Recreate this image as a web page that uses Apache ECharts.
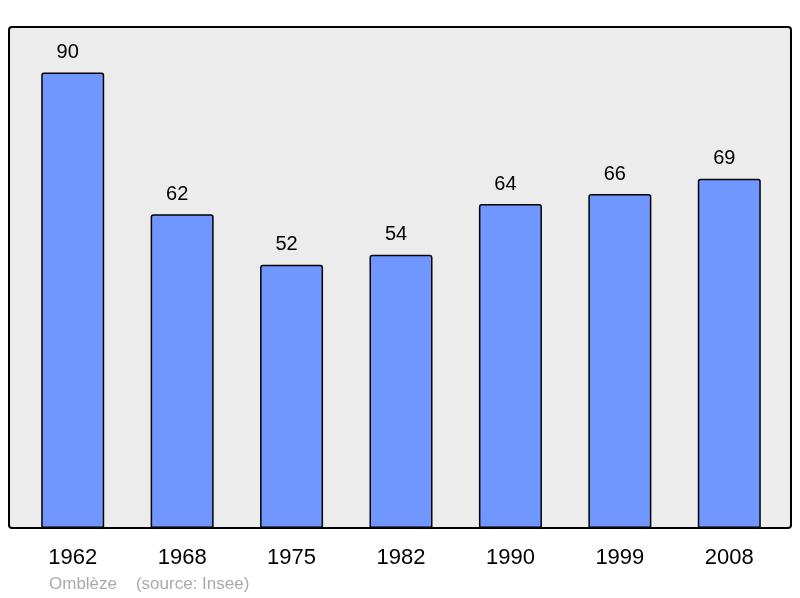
<!DOCTYPE html>
<html><head><meta charset="utf-8">
<script src="https://cdn.jsdelivr.net/npm/echarts@6/dist/echarts.min.js"></script>
<style>html,body{margin:0;padding:0;background:#fff}#c{width:800px;height:598px}</style>
</head><body><div id="c"></div>
<script>
const years = ['1962','1968','1975','1982','1990','1999','2008'];
const population = [90, 62, 52, 54, 64, 66, 69];
const footnote = 'Omblèze    (source: Insee)';

const chart = echarts.init(document.getElementById('c'), null, {renderer: 'canvas'});
chart.setOption({
  animation: false,
  backgroundColor: '#ffffff',
  graphic: [
    {type: 'rect', z: -10, shape: {x: 9, y: 27, width: 782, height: 501, r: 3},
     style: {fill: '#ececec', stroke: '#000', lineWidth: 2}},
    {type: 'text', left: 49, top: 576, style: {text: footnote, fill: '#aaaaaa', font: '17px "Liberation Sans", Arial, sans-serif'}}
  ],
  grid: {left: 18, right: 16, top: 27, bottom: 70, containLabel: false},
  xAxis: {
    type: 'category', data: years,
    axisLine: {show: false}, axisTick: {show: false},
    axisLabel: {color: '#000', fontSize: 22, fontFamily: '"Liberation Sans", Arial, sans-serif', margin: 19}
  },
  yAxis: {type: 'value', min: 0, max: 99, show: false, splitLine: {show: false}},
  series: [{
    type: 'bar', data: population, barWidth: 63,
    itemStyle: {color: '#7097ff', borderColor: '#000', borderWidth: 1.5, borderRadius: [2,2,0,0]},
    label: {show: true, position: 'top', distance: 10, offset: [-5, 0], color: '#000', fontSize: 20, fontFamily: '"Liberation Sans", Arial, sans-serif'}
  }]
});
</script></body></html>
